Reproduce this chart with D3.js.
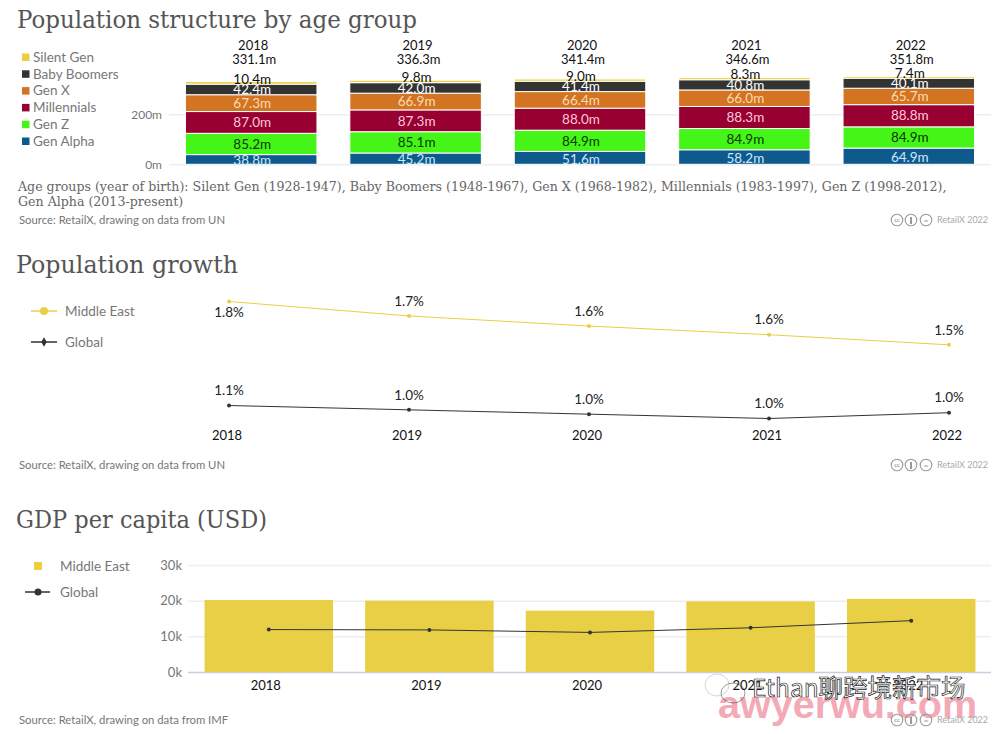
<!DOCTYPE html>
<html>
<head>
<meta charset="utf-8">
<script src="https://d3js.org/d3.v7.min.js"></script>
<style>
	body { margin: 0; background: #fff; }
	svg { display: block; }
	text { font-family: Lato, "Noto Sans", sans-serif; }
	.title, .note { font-family: "DejaVu Serif", serif; fill: #555; }
	.title { font-size: 25px; }
	.note { font-size: 12.6px; fill: #666; }
	.source { font-size: 11.3px; fill: #777; }
	.legend { font-size: 13.5px; fill: #777; }
	.tick text { font-size: 12px; fill: #777; }
	.year { font-size: 13px; fill: #111; }
	.value { font-size: 13.5px; }
	.credit { font-size: 9px; fill: #aaa; }
</style>
</head>
<body>
<div id="chart"></div>
<script>

// population structure, millions
let years		= ["2018", "2019", "2020", "2021", "2022"],
	ageGroups	= ["Silent Gen", "Baby Boomers", "Gen X", "Millennials", "Gen Z", "Gen Alpha"],
	silentGen	= [10.4, 9.8, 9.0, 8.3, 7.4],
	babyBoomers	= [42.4, 42.0, 41.4, 40.8, 40.1],
	genX		= [67.3, 66.9, 66.4, 66.0, 65.7],
	millennials	= [87.0, 87.3, 88.0, 88.3, 88.8],
	genZ		= [85.2, 85.1, 84.9, 84.9, 84.9],
	genAlpha	= [38.8, 45.2, 51.6, 58.2, 64.9],
	popTotals	= [331.1, 336.3, 341.4, 346.6, 351.8];

// population growth, %
let growthMiddleEast	= [1.78, 1.68, 1.61, 1.55, 1.48],
	growthGlobal		= [1.06, 1.03, 1.00, 0.97, 1.01];

// GDP per capita, thousand USD
let gdpMiddleEast	= [20.2, 20.0, 17.2, 19.8, 20.5],
	gdpGlobal		= [11.9, 11.8, 11.1, 12.4, 14.4];

let groupColors = {
	"Silent Gen":	"#e8cf45",
	"Baby Boomers":	"#333333",
	"Gen X":		"#d27422",
	"Millennials":	"#970031",
	"Gen Z":		"#46f518",
	"Gen Alpha":	"#0f5a8c"
};

let labelColors = {
	"Silent Gen":	"#111111",
	"Baby Boomers":	"#ffffff",
	"Gen X":		"#fbdcae",
	"Millennials":	"#ffc6dc",
	"Gen Z":		"#053b00",
	"Gen Alpha":	"#c8e8ff"
};

let yellow	= "#e8cf45",
	dark	= "#333333";

let svg = d3.select("#chart")
	.append("svg")
		.attr("width", 994)
		.attr("height", 734);

function addText (x, y, str, cls) {
	return svg.append("text")
		.attr("x", x)
		.attr("y", y)
		.attr("dy", "0.35em")
		.attr("class", cls)
		.text(str);
}

// serif substitute runs wide, so squeeze titles to the reference width
function addTitle (x, y, str, width) {
	return addText(x, y, str, "title")
		.attr("textLength", width)
		.attr("lengthAdjust", "spacingAndGlyphs");
}

function addGrid (axis, x, color) {
	let g = svg.append("g")
		.attr("transform", "translate(" + x + ",0)")
		.call(axis);

	g.select(".domain").remove();
	g.selectAll(".tick line").attr("stroke", color).attr("stroke-width", 1.5);
	return g;
}

// cc badge and credit in the corner of every panel
function addCredit (y) {
	[897, 911, 926].forEach(function (cx) {
		svg.append("circle")
			.attr("cx", cx)
			.attr("cy", y)
			.attr("r", 5.8)
			.attr("fill", "none")
			.attr("stroke", "#999")
			.attr("stroke-width", 1.1);
	});

	svg.append("text")
		.attr("x", 897)
		.attr("y", y)
		.attr("dy", "0.35em")
		.attr("text-anchor", "middle")
		.style("font-size", "6px")
		.style("font-weight", "bold")
		.style("fill", "#999")
		.text("cc");

	svg.append("rect")
		.attr("x", 910)
		.attr("y", y - 3)
		.attr("width", 2)
		.attr("height", 7)
		.attr("fill", "#999");

	svg.append("text")
		.attr("x", 926)
		.attr("y", y)
		.attr("dy", "0.35em")
		.attr("text-anchor", "middle")
		.style("font-size", "8px")
		.style("font-weight", "bold")
		.style("fill", "#999")
		.text("=");

	addText(937, y, "RetailX 2022", "credit");
}

// panel 1: stacked bars ///////////////////////////////////////////////

function drawStructure () {

	let table = years.map(function (year, i) {
		return {
			year:			year,
			"Silent Gen":	silentGen[i],
			"Baby Boomers":	babyBoomers[i],
			"Gen X":		genX[i],
			"Millennials":	millennials[i],
			"Gen Z":		genZ[i],
			"Gen Alpha":	genAlpha[i]
		};
	});

	let xScale = d3.scaleBand()
		.domain(years)
		.range([169, 991])
		.paddingInner(0.2)
		.paddingOuter(0.1);

	let yScale = d3.scaleLinear()
		.domain([0, 200])
		.range([164.3, 114.3]);

	addTitle(17, 19, "Population structure by age group", 400);

	addGrid(d3.axisLeft(yScale)
		.tickValues([0, 200])
		.tickFormat(function (d) { return d + "m"; })
		.tickSize(-822)
		.tickPadding(7), 169, "#eeeeee");

	// stack from the bottom up
	let stack = d3.stack().keys(ageGroups.slice().reverse());
	let layers = stack(table);

	layers.forEach(function (layer) {
		svg.selectAll(".seg-" + layer.index)
			.data(layer)
			.enter()
				.append("rect")
					.attr("x", function (d) { return xScale(d.data.year); })
					.attr("y", function (d) { return yScale(d[1]); })
					.attr("width", xScale.bandwidth())
					.attr("height", function (d) { return yScale(d[0]) - yScale(d[1]); })
					.attr("fill", groupColors[layer.key])
					.attr("stroke", "#fff")
					.attr("stroke-width", 1);

		let shift = layer.key == "Silent Gen" ? -4 : (layer.key == "Gen Alpha" ? 1 : 0);

		svg.selectAll(".lab-" + layer.index)
			.data(layer)
			.enter()
				.append("text")
					.attr("class", "value")
					.attr("x", function (d) { return xScale(d.data.year) + xScale.bandwidth() / 2 + 1; })
					.attr("y", function (d) { return (yScale(d[0]) + yScale(d[1])) / 2 + shift; })
					.attr("dy", "0.35em")
					.attr("text-anchor", "middle")
					.style("fill", labelColors[layer.key])
					.text(function (d) { return (d[1] - d[0]).toFixed(1) + "m"; });
	});

	years.forEach(function (year, i) {
		let cx = xScale(year) + xScale.bandwidth() / 2 + 2;
		addText(cx, 45, year, "year").attr("text-anchor", "middle");
		addText(cx + 1, 59, popTotals[i].toFixed(1) + "m", "year").attr("text-anchor", "middle");
	});

	// legend
	let legendY = d3.scalePoint().domain(ageGroups).range([57, 141]);

	ageGroups.forEach(function (name) {
		svg.append("rect")
			.attr("x", 22)
			.attr("y", legendY(name) - 3.5)
			.attr("width", 7.5)
			.attr("height", 7.5)
			.attr("fill", groupColors[name]);
		addText(33, legendY(name), name, "legend");
	});

	addText(18, 186.5, "Age groups (year of birth): Silent Gen (1928-1947), Baby Boomers (1948-1967), Gen X (1968-1982), Millennials (1983-1997), Gen Z (1998-2012),", "note");
	addText(18, 202, "Gen Alpha (2013-present)", "note");
	addText(19, 220, "Source: RetailX, drawing on data from UN", "source");
	addCredit(220);
}

// panel 2: two lines //////////////////////////////////////////////////

function drawGrowth () {

	let xScale = d3.scalePoint()
		.domain(years)
		.range([229, 949]);

	let yScale = d3.scaleLinear()
		.domain([0.97, 1.78])
		.range([418.5, 301.5]);

	addTitle(16, 264, "Population growth", 222);

	let line = d3.line()
		.x(function (d, i) { return xScale(years[i]); })
		.y(function (d) { return yScale(d); });

	[[growthMiddleEast, yellow], [growthGlobal, dark]].forEach(function (series) {
		svg.append("path")
			.attr("d", line(series[0]))
			.attr("fill", "none")
			.attr("stroke", series[1])
			.attr("stroke-width", 1);

		svg.selectAll(null)
			.data(series[0])
			.enter()
				.append("circle")
					.attr("cx", function (d, i) { return xScale(years[i]); })
					.attr("cy", function (d) { return yScale(d); })
					.attr("r", 2)
					.attr("fill", series[1]);

		svg.selectAll(null)
			.data(series[0])
			.enter()
				.append("text")
					.attr("class", "value")
					.attr("x", function (d, i) { return xScale(years[i]); })
					// first Middle East label sits under its point
					.attr("y", function (d, i) {
						let below = series[1] == yellow && i == 0;
						return yScale(d) + (below ? 11 : -15);
					})
					.attr("dy", "0.35em")
					.attr("text-anchor", "middle")
					.style("fill", "#222")
					.text(function (d) { return d.toFixed(1) + "%"; });
	});

	years.forEach(function (year) {
		addText(xScale(year) - 2, 435, year, "year").attr("text-anchor", "middle");
	});

	// legend
	svg.append("line").attr("x1", 31).attr("x2", 57).attr("y1", 311).attr("y2", 311).attr("stroke", yellow).attr("stroke-width", 1.5);
	svg.append("circle").attr("cx", 44).attr("cy", 311).attr("r", 4).attr("fill", yellow);
	addText(65, 311, "Middle East", "legend");

	svg.append("line").attr("x1", 31).attr("x2", 57).attr("y1", 342).attr("y2", 342).attr("stroke", dark).attr("stroke-width", 1.5);
	svg.append("path").attr("d", d3.symbol(d3.symbolDiamond, 26)).attr("transform", "translate(44,342)").attr("fill", dark);
	addText(65, 342, "Global", "legend");

	addText(19, 465, "Source: RetailX, drawing on data from UN", "source");
	addCredit(465);
}

// panel 3: bars with a line ///////////////////////////////////////////

function drawGdp () {

	let xScale = d3.scaleBand()
		.domain(years)
		.range([188.5, 991.5])
		.paddingInner(0.2)
		.paddingOuter(0.1);

	let yScale = d3.scaleLinear()
		.domain([0, 30])
		.range([672, 565]);

	addTitle(16, 519, "GDP per capita (USD)", 251);

	let grid = addGrid(d3.axisLeft(yScale)
		.tickValues([0, 10, 20, 30])
		.tickFormat(function (d) { return d + "k"; })
		.tickSize(-803)
		.tickPadding(6), 188, "#eeeeee");

	grid.selectAll(".tick text").style("font-size", "13px");
	grid.selectAll(".tick line").filter(function (d) { return d == 0; }).attr("stroke", "#ccccdd");

	svg.selectAll(".gdp-bar")
		.data(gdpMiddleEast)
		.enter()
			.append("rect")
				.attr("x", function (d, i) { return xScale(years[i]); })
				.attr("y", function (d) { return yScale(d); })
				.attr("width", xScale.bandwidth())
				.attr("height", function (d) { return yScale(0) - yScale(d); })
				.attr("fill", yellow);

	let cx = function (d, i) { return xScale(years[i]) + xScale.bandwidth() / 2; };

	svg.append("path")
		.attr("d", d3.line().x(cx).y(function (d) { return yScale(d); })(gdpGlobal))
		.attr("fill", "none")
		.attr("stroke", dark)
		.attr("stroke-width", 1);

	svg.selectAll(".gdp-dot")
		.data(gdpGlobal)
		.enter()
			.append("circle")
				.attr("cx", cx)
				.attr("cy", function (d) { return yScale(d); })
				.attr("r", 2)
				.attr("fill", dark);

	years.forEach(function (year) {
		addText(xScale(year) + xScale.bandwidth() / 2 - 3, 685, year, "year").attr("text-anchor", "middle");
	});

	// legend
	svg.append("rect").attr("x", 34).attr("y", 562).attr("width", 8).attr("height", 8).attr("fill", yellow);
	addText(60, 566, "Middle East", "legend");

	svg.append("line").attr("x1", 25).attr("x2", 50).attr("y1", 592).attr("y2", 592).attr("stroke", dark).attr("stroke-width", 1.5);
	svg.append("circle").attr("cx", 38).attr("cy", 592).attr("r", 3.5).attr("fill", dark);
	addText(60, 592, "Global", "legend");

	addText(19, 720, "Source: RetailX, drawing on data from IMF", "source");
}

// reposted-image marks over the bottom right corner
function drawOverlay () {
	svg.append("text")
		.attr("x", 718)
		.attr("y", 718)
		.style("font-family", "Liberation Sans, sans-serif")
		.style("font-size", "39.5px")
		.style("font-weight", "bold")
		.style("fill", "#f4aab6")
		.text("awyerwu.com");

	addCredit(720);

	svg.append("ellipse").attr("cx", 717).attr("cy", 685).attr("rx", 12).attr("ry", 11)
		.attr("fill", "#fff").attr("fill-opacity", 0.5).attr("stroke", "#aaa").attr("stroke-width", 0.5);
	svg.append("ellipse").attr("cx", 733).attr("cy", 693).attr("rx", 12).attr("ry", 10)
		.attr("fill", "none").attr("stroke", "#333").attr("stroke-width", 0.5);

	svg.append("text")
		.attr("x", 752)
		.attr("y", 697)
		.style("font-family", "Noto Sans CJK SC, sans-serif")
		.style("font-size", "24.5px")
		.style("fill", "#fff")
		.style("stroke", "#222")
		.style("stroke-width", 0.7)
		.text("Ethan聊跨境新市场");
}

drawStructure();
drawGrowth();
drawGdp();
drawOverlay();

</script>
</body>
</html>
